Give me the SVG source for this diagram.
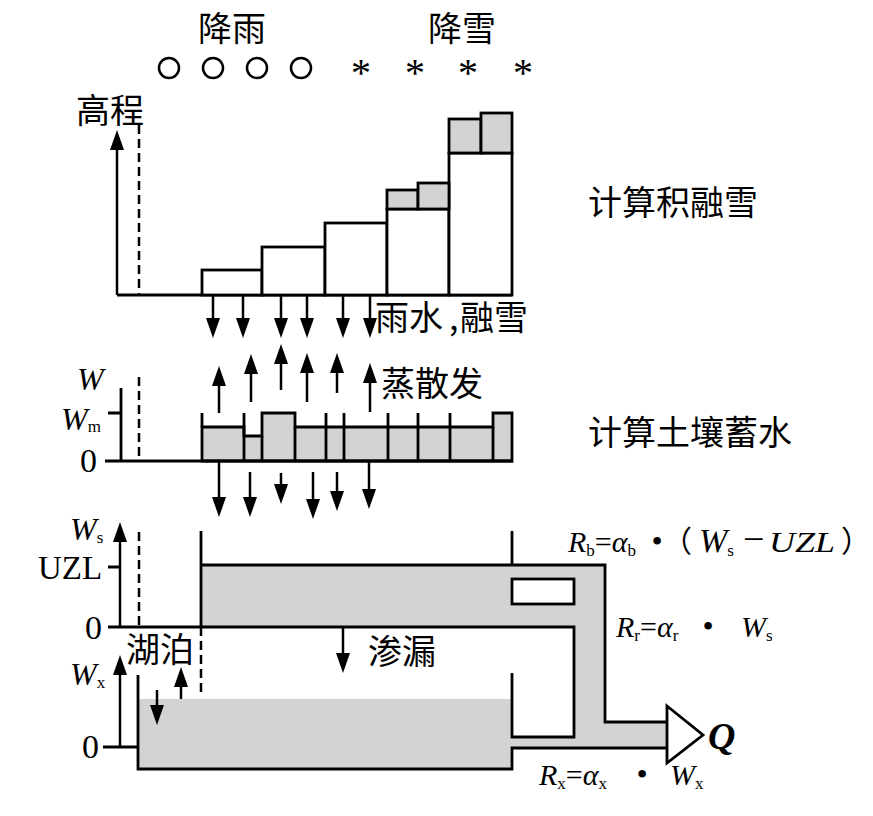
<svg xmlns="http://www.w3.org/2000/svg" width="873" height="816" viewBox="0 0 873 816">
<defs>
<style>
.ln{fill:none;stroke:#000;stroke-width:2.8}
.bx{fill:#fff;stroke:#000;stroke-width:2.8}
.gb{fill:#d3d3d3;stroke:#000;stroke-width:2.8}
.g{fill:#d3d3d3;stroke:none}
.ds{fill:none;stroke:#000;stroke-width:2.5;stroke-dasharray:9 5}
.ar{stroke:#000;stroke-width:2.5;marker-end:url(#ah)}
.cir{fill:none;stroke:#000;stroke-width:2.5}
.cjk{font-family:"Noto Sans CJK SC",sans-serif;font-size:34px;fill:#000}
.se{font-family:"Liberation Serif",serif;fill:#000}
.it{font-style:italic}
.sub{font-size:17px;font-style:normal}
</style>
<marker id="ah" viewBox="0 0 20 14" refX="14" refY="7" markerWidth="20" markerHeight="14" markerUnits="userSpaceOnUse" orient="auto"><path d="M0,0L20,7L0,14z"/></marker>
</defs>
<rect width="873" height="816" fill="#fff"/>

<g id="precipitation">
<text class="cjk" x="198" y="41">降雨</text>
<text class="cjk" x="428" y="41">降雪</text>
<circle class="cir" cx="169" cy="68" r="10"/>
<circle class="cir" cx="213" cy="68" r="10"/>
<circle class="cir" cx="257" cy="68" r="10"/>
<circle class="cir" cx="301" cy="68" r="10"/>
<g class="se" font-size="40" text-anchor="middle">
<text x="361" y="86">*</text>
<text x="415" y="86">*</text>
<text x="468" y="86">*</text>
<text x="523" y="86">*</text>
</g>
</g>

<g id="snow-routine">
<text class="cjk" x="76" y="123">高程</text>
<path class="ln" d="M117,295H512"/>
<path class="ds" d="M139,125V295"/>
<rect class="bx" x="202" y="270" width="60" height="25"/>
<rect class="bx" x="262" y="247" width="63" height="48"/>
<rect class="bx" x="325" y="223" width="62" height="72"/>
<rect class="bx" x="387" y="209" width="62" height="86"/>
<rect class="bx" x="449" y="153" width="63" height="142"/>
<rect class="gb" x="387" y="190" width="31" height="19"/>
<rect class="gb" x="418" y="183" width="31" height="26"/>
<rect class="gb" x="449" y="119" width="32" height="34"/>
<rect class="gb" x="481" y="113" width="31" height="40"/>
<text class="cjk" x="588" y="215">计算积融雪</text>
</g>

<g id="soil-routine">
<path class="gb" d="M202,461V427H244V436H262V413H295V427H493V413H512V461Z"/>
<path class="ln" d="M202,413V427M244,413V461M262,436V461M295,427V461M326,413V461M344,413V461M388,413V461M418,413V461M450,413V461M493,427V461"/>
<path class="ln" d="M121,388V461M108,413H121M105,461H513"/>
<path class="ds" d="M139,377V461"/>
<text class="se it" font-size="32" x="77" y="390">W</text>
<text class="se it" font-size="32" x="61" y="430">W<tspan class="sub" dy="2">m</tspan></text>
<text class="se" font-size="34" x="80" y="472">0</text>
<text class="cjk" x="375" y="330">雨水<tspan x="449">,</tspan><tspan x="460">融雪</tspan></text>
<text class="cjk" x="381" y="396">蒸散发</text>
<text class="cjk" x="588" y="445">计算土壤蓄水</text>
</g>

<g id="response-routine">
<rect class="g" x="201" y="565" width="404" height="62"/>
<rect class="g" x="574" y="627" width="31" height="121"/>
<path class="g" d="M574,722H667V748H512V737H574Z"/>
<rect class="g" x="138" y="699" width="374" height="70"/>
<rect class="bx" x="512" y="579" width="62" height="25"/>
<path class="ln" d="M201,531V627M512,531V565M201,565H605V722H667M108,627H574V737H512V673M138,675V769H512V748H667M103,747H138M108,567H120"/>
<path class="ds" d="M139,532V627M201,627V693"/>
<text class="se it" font-size="32" x="70" y="540">W<tspan class="sub" dy="3">s</tspan></text>
<text class="se" font-size="33" x="38" y="579">UZL</text>
<text class="se" font-size="34" x="85" y="639">0</text>
<text class="se it" font-size="32" x="70" y="685">W<tspan class="sub" dy="3">x</tspan></text>
<text class="se" font-size="34" x="82" y="758">0</text>
<text class="cjk" x="126" y="662">湖泊</text>
<text class="cjk" x="368" y="664">渗漏</text>
</g>

<g id="outlet">
<polygon class="bx" points="667,706 703,735 667,763"/>
<text class="se it" font-size="38" font-weight="bold" x="708" y="749">Q</text>
</g>

<g id="formulas" class="se" font-size="30">
<text y="552"><tspan x="568" class="it">R</tspan><tspan class="sub" dy="4">b</tspan><tspan dy="-4">=</tspan><tspan class="it">α</tspan><tspan class="sub" dy="4">b</tspan></text>
<text x="657" y="552" font-size="32" text-anchor="middle">•</text>
<text y="552"><tspan x="662" font-family="Noto Sans CJK SC, sans-serif">（</tspan><tspan x="699" class="it" font-size="34">W</tspan><tspan class="sub" dy="4">s</tspan><tspan x="743" dy="-4" font-size="38">−</tspan><tspan x="769" class="it" textLength="66" lengthAdjust="spacingAndGlyphs">UZL</tspan><tspan x="841" font-family="Noto Sans CJK SC, sans-serif">）</tspan></text>
<text y="637"><tspan x="616" class="it">R</tspan><tspan class="sub" dy="4">r</tspan><tspan dy="-4">=</tspan><tspan class="it">α</tspan><tspan class="sub" dy="4">r</tspan></text>
<text x="708" y="637" font-size="32" text-anchor="middle">•</text>
<text y="637"><tspan x="741" class="it">W</tspan><tspan class="sub" dy="4">s</tspan></text>
<text y="785"><tspan x="539" class="it">R</tspan><tspan class="sub" dy="4">x</tspan><tspan dy="-4">=</tspan><tspan class="it">α</tspan><tspan class="sub" dy="4">x</tspan></text>
<text x="642" y="785" font-size="32" text-anchor="middle">•</text>
<text y="785"><tspan x="670" class="it">W</tspan><tspan class="sub" dy="4">x</tspan></text>
</g>

<g id="connectors">
<line class="ar" x1="117" y1="295" x2="117" y2="136"/>
<line class="ar" x1="213" y1="295" x2="213" y2="332"/>
<line class="ar" x1="243" y1="295" x2="243" y2="332"/>
<line class="ar" x1="281" y1="295" x2="281" y2="332"/>
<line class="ar" x1="307" y1="295" x2="307" y2="332"/>
<line class="ar" x1="343" y1="295" x2="343" y2="332"/>
<line class="ar" x1="370" y1="295" x2="370" y2="332"/>
<line class="ar" x1="219" y1="413" x2="219" y2="372"/>
<line class="ar" x1="251" y1="402" x2="251" y2="360"/>
<line class="ar" x1="281" y1="390" x2="281" y2="350"/>
<line class="ar" x1="307" y1="402" x2="307" y2="359"/>
<line class="ar" x1="337" y1="393" x2="337" y2="359"/>
<line class="ar" x1="370" y1="412" x2="370" y2="369"/>
<line class="ar" x1="219" y1="462" x2="219" y2="511"/>
<line class="ar" x1="250" y1="472" x2="250" y2="511"/>
<line class="ar" x1="281" y1="473" x2="281" y2="498"/>
<line class="ar" x1="313" y1="472" x2="313" y2="513"/>
<line class="ar" x1="337" y1="472" x2="337" y2="505"/>
<line class="ar" x1="369" y1="462" x2="369" y2="503"/>
<line class="ar" x1="120" y1="627" x2="120" y2="528"/>
<line class="ar" x1="120" y1="747" x2="120" y2="661"/>
<line class="ar" x1="157" y1="690" x2="157" y2="719"/>
<line class="ar" x1="181" y1="699" x2="181" y2="673"/>
<line class="ar" x1="343" y1="627" x2="343" y2="667"/>
</g>
</svg>
